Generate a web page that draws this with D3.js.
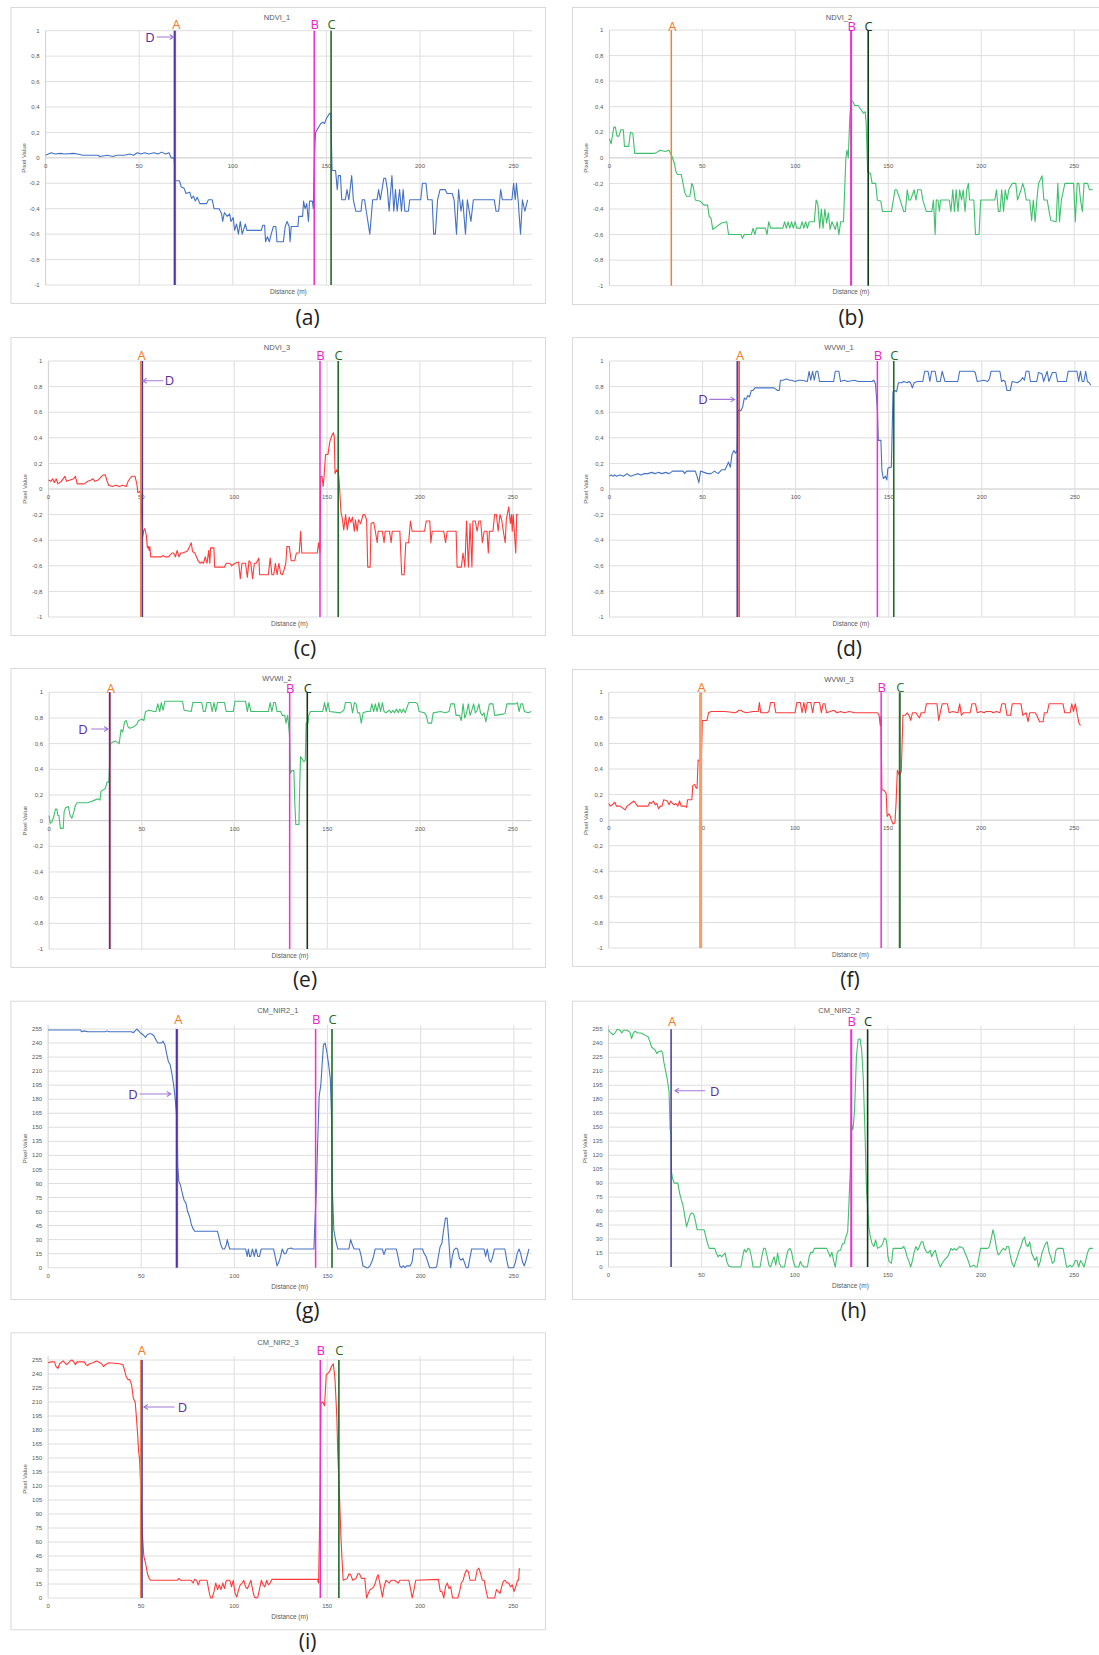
<!DOCTYPE html>
<meta charset="utf-8">
<script src="https://cdn.jsdelivr.net/npm/d3@7"></script>
<style>
  body { margin: 0; background: #fff; }
  text { font-family: "Liberation Sans", Arial, sans-serif; }
  .big { font-family: "Open Sans", "Noto Sans", sans-serif; }
</style>
<body>
<script>

// ---- profiles: [distance (m), pixel value] ----
var ndvi1 = [[0,0.02],[3,0.04],[5,0.03],[8,0.035],[10,0.03],[15,0.035],[17,0.03],[20,0.02],[28,0.02],[29,0.01],[33,0.02],[36,0.01],[38,0.02],[42,0.02],[45,0.03],[47,0.02],[49,0.04],[51,0.03],[53,0.04],[55,0.03],[58,0.04],[60,0.03],[62,0.045],[64,0.03],[66,0.04],[67,0.0],[68.7,0.0],[69.3,-0.18],[71.5,-0.18],[72.5,-0.23],[74,-0.24],[75,-0.28],[77,-0.27],[78,-0.32],[79,-0.30],[80,-0.34],[81,-0.31],[82.4,-0.36],[86,-0.36],[87,-0.33],[89,-0.33],[90,-0.40],[92.7,-0.40],[94,-0.44],[94.6,-0.50],[95.5,-0.43],[97,-0.46],[98.3,-0.44],[99,-0.50],[100.2,-0.47],[101,-0.57],[102,-0.52],[103,-0.6],[104,-0.5],[105,-0.6],[106.7,-0.52],[107.5,-0.57],[115.2,-0.57],[116,-0.53],[117,-0.53],[117.5,-0.66],[118.5,-0.62],[119.5,-0.66],[120.5,-0.60],[121.7,-0.54],[123,-0.54],[123.6,-0.66],[127,-0.66],[128,-0.54],[129,-0.5],[130.1,-0.54],[130.6,-0.66],[131.2,-0.54],[134.8,-0.54],[135.2,-0.46],[137.3,-0.46],[137.8,-0.34],[138.6,-0.40],[139.5,-0.36],[140.4,-0.50],[141,-0.34],[142.5,-0.34],[143,-0.40],[143.6,0.0],[144.2,0.2],[145,0.22],[147,0.27],[148,0.28],[149,0.27],[150,0.31],[151.7,0.35],[152.4,0.35],[153,-0.1],[154.9,-0.1],[155.8,-0.25],[156.4,-0.14],[157.5,-0.14],[158.2,-0.33],[160.1,-0.33],[161,-0.25],[162,-0.33],[163.5,-0.14],[164.4,-0.33],[165.7,-0.42],[168.5,-0.42],[169.1,-0.33],[170.4,-0.33],[171.3,-0.42],[173.2,-0.60],[174.7,-0.33],[177,-0.33],[177.9,-0.25],[178.8,-0.33],[180.7,-0.16],[181.6,-0.16],[182.6,-0.25],[183.5,-0.42],[185,-0.14],[186,-0.42],[186.9,-0.25],[187.8,-0.42],[189.1,-0.25],[190.1,-0.42],[191,-0.25],[191.9,-0.42],[193.8,-0.42],[194.5,-0.33],[200.4,-0.33],[201.3,-0.2],[203.2,-0.2],[204.1,-0.33],[206.5,-0.33],[207.3,-0.6],[208.2,-0.6],[209.4,-0.33],[210.7,-0.25],[213.5,-0.25],[214.5,-0.28],[217.2,-0.28],[218.2,-0.33],[219.5,-0.6],[220.6,-0.25],[221.9,-0.42],[222.8,-0.33],[224.3,-0.6],[225.3,-0.33],[227.2,-0.5],[228.5,-0.33],[239.7,-0.33],[240.6,-0.42],[242,-0.42],[243.1,-0.25],[244,-0.33],[249.1,-0.33],[250,-0.2],[250.9,-0.33],[251.5,-0.2],[252.4,-0.33],[253.7,-0.6],[254.7,-0.33],[256,-0.42],[257.5,-0.33]];

var ndvi2 = [[0,0.15],[0.9,0.11],[2.4,0.24],[3.2,0.24],[4.1,0.17],[5.1,0.17],[6.2,0.22],[7.5,0.22],[8.1,0.09],[10.4,0.09],[11.3,0.2],[12.6,0.19],[13.6,0.035],[24.5,0.035],[27.3,0.06],[30.1,0.05],[32,0.06],[33.4,0.02],[34.9,-0.04],[35.8,-0.11],[36.7,-0.13],[38.6,-0.13],[39.6,-0.2],[40.5,-0.27],[41.5,-0.3],[43.3,-0.3],[44.3,-0.2],[45.2,-0.23],[46.2,-0.33],[49,-0.34],[50.9,-0.37],[52.8,-0.37],[53.7,-0.46],[54.6,-0.47],[55.6,-0.56],[57.5,-0.54],[60.3,-0.51],[63.1,-0.5],[64.1,-0.6],[70.7,-0.6],[71.6,-0.63],[72.5,-0.6],[76.3,-0.6],[77.3,-0.55],[78.2,-0.6],[79.1,-0.55],[83.9,-0.55],[84.8,-0.6],[85.7,-0.5],[86.7,-0.55],[93.3,-0.55],[94.2,-0.5],[95.2,-0.55],[96.1,-0.5],[97,-0.55],[98,-0.5],[98.9,-0.55],[99.9,-0.5],[100.8,-0.55],[102.7,-0.55],[103.6,-0.5],[104.6,-0.55],[105.5,-0.5],[106.5,-0.55],[107.4,-0.5],[110.2,-0.5],[111.2,-0.33],[112.1,-0.36],[113.1,-0.55],[114,-0.4],[114.9,-0.55],[115.9,-0.4],[116.8,-0.51],[117.8,-0.43],[118.7,-0.56],[119.7,-0.5],[121.5,-0.56],[122.5,-0.5],[123.4,-0.6],[124.4,-0.5],[125.9,-0.5],[127.2,0],[127.8,0.06],[128.5,0],[129.3,0.32],[130,0.45],[131,0.44],[131.9,0.41],[133.8,0.41],[134.7,0.39],[136.6,0.35],[137.6,0.36],[138.1,0.27],[138.9,-0.11],[140.4,-0.12],[141.3,-0.2],[143.2,-0.2],[144.1,-0.33],[146,-0.34],[146.9,-0.42],[151.7,-0.42],[153.6,-0.25],[154.5,-0.25],[156.4,-0.33],[158.3,-0.42],[159.2,-0.42],[160.2,-0.25],[161.1,-0.33],[162,-0.33],[163.9,-0.25],[164.9,-0.33],[165.8,-0.25],[167.7,-0.25],[168.6,-0.33],[170.5,-0.42],[173.4,-0.42],[174.3,-0.33],[175.2,-0.6],[175.8,-0.33],[176.7,-0.33],[177.5,-0.42],[178.1,-0.33],[182.8,-0.33],[183.7,-0.42],[184.7,-0.25],[185.6,-0.42],[186.5,-0.25],[187.5,-0.42],[188.4,-0.25],[189.4,-0.33],[190.3,-0.25],[191.3,-0.42],[192.2,-0.25],[193.1,-0.2],[193.7,-0.33],[196,-0.33],[196.9,-0.6],[198.8,-0.6],[199.7,-0.33],[207.3,-0.33],[208.2,-0.25],[209.2,-0.42],[210.1,-0.42],[211,-0.25],[212,-0.42],[212.9,-0.25],[213.9,-0.33],[214.8,-0.25],[216.7,-0.2],[218.6,-0.2],[219.5,-0.33],[221.4,-0.25],[222.3,-0.2],[223.3,-0.25],[224.2,-0.33],[226.1,-0.33],[227.1,-0.49],[228,-0.33],[229,-0.5],[229.9,-0.33],[230.8,-0.2],[231.8,-0.17],[232.7,-0.14],[233.7,-0.33],[235.5,-0.33],[236.5,-0.42],[237.4,-0.49],[240.3,-0.5],[241.2,-0.2],[242.1,-0.5],[243.1,-0.33],[245,-0.2],[249.7,-0.2],[250.6,-0.5],[251.6,-0.2],[252.5,-0.2],[253.4,-0.33],[254.4,-0.42],[255.3,-0.2],[257.2,-0.2],[258.2,-0.25],[260,-0.25]];

var ndvi3 = [[0,0.07],[1.3,0.06],[2.3,0.08],[3.2,0.05],[4.2,0.08],[5.1,0.04],[7,0.06],[8.9,0.1],[9.8,0.06],[11.7,0.07],[13.6,0.08],[14.5,0.1],[15.5,0.04],[19.3,0.04],[21.2,0.06],[23,0.07],[24,0.08],[25,0.06],[26.8,0.07],[28.7,0.1],[29.7,0.11],[30.6,0.11],[31.6,0.06],[32.5,0.03],[34.4,0.02],[36.3,0.03],[38.1,0.02],[40,0.03],[41.9,0.02],[42.9,0.06],[43.8,0.08],[44.8,0.1],[46.6,0.1],[47.6,0.04],[48.2,-0.03],[49.1,-0.02],[49.7,-0.03],[50.8,-0.37],[51.4,-0.32],[51.9,-0.31],[52.7,-0.36],[53.3,-0.46],[53.9,-0.45],[54.2,-0.48],[54.6,-0.45],[55.1,-0.53],[60.8,-0.53],[61.8,-0.52],[62.7,-0.53],[64.6,-0.53],[66.5,-0.5],[67.4,-0.5],[68.4,-0.53],[69.3,-0.48],[70.3,-0.53],[71.2,-0.5],[72.1,-0.5],[74,-0.49],[75,-0.48],[76,-0.45],[76.9,-0.42],[77.5,-0.48],[77.8,-0.49],[78.8,-0.5],[79.7,-0.53],[80.6,-0.56],[81.6,-0.58],[82.5,-0.57],[83.5,-0.58],[84.4,-0.53],[85.4,-0.58],[86.3,-0.48],[86.9,-0.58],[87.3,-0.46],[89.1,-0.46],[89.5,-0.61],[94.8,-0.61],[95.7,-0.58],[97.6,-0.58],[98.6,-0.6],[100.5,-0.58],[102.4,-0.57],[103.3,-0.7],[104.2,-0.58],[106.1,-0.58],[107.1,-0.69],[108,-0.56],[109,-0.58],[109.9,-0.7],[110.9,-0.58],[111.8,-0.58],[113.3,-0.54],[113.7,-0.67],[118.4,-0.67],[119.4,-0.54],[120.3,-0.67],[121.3,-0.67],[122.2,-0.58],[123.1,-0.67],[124.1,-0.58],[125,-0.66],[126,-0.67],[126.9,-0.63],[127.8,-0.58],[128.4,-0.45],[129.7,-0.45],[130.7,-0.56],[132.6,-0.56],[133.5,-0.5],[135,-0.5],[135.8,-0.33],[136.4,-0.5],[144.8,-0.5],[145.4,-0.42],[146.2,-0.5],[146.6,0.1],[147.3,0.1],[147.9,0.02],[148.4,0.1],[149.2,0.27],[150.5,0.27],[151.5,0.37],[152.4,0.41],[153.4,0.44],[153.9,0.41],[154.3,0.12],[155.2,0.15],[156.2,0.12],[156.7,0.02],[157.5,-0.18],[158.1,-0.22],[159,-0.32],[160,-0.2],[160.9,-0.32],[161.9,-0.22],[162.8,-0.26],[163.7,-0.22],[164.7,-0.33],[165.3,-0.24],[166.2,-0.33],[166.9,-0.24],[168.1,-0.27],[169.4,-0.2],[170.3,-0.2],[171.3,-0.24],[171.9,-0.61],[173.2,-0.61],[173.7,-0.27],[175.1,-0.26],[176,-0.33],[177,-0.42],[177.5,-0.33],[179.8,-0.33],[180.7,-0.42],[181.3,-0.33],[183.6,-0.33],[184.5,-0.42],[185.1,-0.33],[189.2,-0.33],[190.2,-0.67],[191.5,-0.67],[192.4,-0.42],[193.9,-0.42],[194.9,-0.25],[195.8,-0.33],[202.5,-0.33],[203.4,-0.25],[205.3,-0.25],[205.9,-0.42],[206.6,-0.33],[212.8,-0.33],[213.8,-0.42],[214.7,-0.33],[219.5,-0.33],[220,-0.61],[222.3,-0.61],[223.2,-0.5],[224.2,-0.61],[225.1,-0.25],[226.1,-0.61],[227,-0.27],[228,-0.61],[228.5,-0.25],[229.8,-0.25],[230.8,-0.33],[231.7,-0.25],[232.7,-0.25],[233.6,-0.42],[234.6,-0.33],[236.1,-0.33],[236.8,-0.5],[237.4,-0.33],[239.3,-0.33],[240.2,-0.2],[241.2,-0.2],[242.1,-0.33],[243.1,-0.2],[244,-0.24],[244.9,-0.33],[245.9,-0.42],[246.5,-0.24],[247.8,-0.14],[248.7,-0.27],[249.3,-0.2],[249.7,-0.33],[250.2,-0.2],[250.8,-0.33],[251.6,-0.5],[252.1,-0.2],[252.9,-0.2]];

var wvwi1 = [[0,0.1],[0.9,0.11],[1.9,0.1],[2.8,0.11],[3.8,0.1],[5.6,0.11],[7.5,0.1],[9.4,0.12],[11.3,0.1],[13.2,0.11],[15,0.12],[16.9,0.11],[18.8,0.12],[20.7,0.12],[22.6,0.13],[24.5,0.12],[26.3,0.13],[28.2,0.12],[30.1,0.13],[32,0.12],[33.9,0.14],[35.7,0.14],[37.6,0.14],[39.5,0.14],[40.4,0.12],[41.4,0.14],[43.3,0.14],[45.1,0.14],[46.1,0.14],[47,0.1],[48,0.05],[48.9,0.14],[50.8,0.13],[52.7,0.12],[54.5,0.12],[56.4,0.14],[58.3,0.12],[60.2,0.15],[62.1,0.15],[63,0.18],[63.9,0.21],[64.9,0.17],[65.8,0.27],[66.8,0.3],[67.7,0.28],[68.6,0.3],[69,0.6],[69.6,0.62],[70.5,0.61],[71.5,0.64],[72.4,0.71],[73.3,0.7],[74.3,0.73],[75.2,0.72],[76.2,0.77],[77.1,0.77],[78.1,0.79],[80.9,0.79],[82.8,0.79],[84.6,0.79],[86.5,0.79],[88.4,0.79],[90.3,0.77],[91.2,0.77],[91.8,0.85],[93.1,0.85],[95,0.86],[96.9,0.85],[97.8,0.85],[99.7,0.84],[101.6,0.85],[103.4,0.85],[106.3,0.84],[107.2,0.92],[108.1,0.85],[109.1,0.92],[110,0.85],[111,0.92],[111.9,0.92],[112.8,0.84],[120.4,0.84],[121.3,0.92],[123.2,0.92],[124.1,0.84],[126,0.85],[127.9,0.84],[131.6,0.85],[133.5,0.84],[141.1,0.84],[142,0.85],[142.9,0.82],[143.9,0.62],[144.4,0.38],[145.8,0.38],[146.3,0.15],[147.1,0.08],[148.2,0.1],[149,0.07],[149.5,0.16],[150.5,0.17],[151.4,0.17],[152.3,0.76],[153.3,0.77],[154.2,0.76],[155.2,0.83],[157,0.83],[158,0.84],[159.9,0.83],[160.9,0.84],[161.7,0.83],[162.7,0.79],[163.6,0.83],[165.5,0.84],[168.3,0.84],[169.3,0.92],[171.1,0.92],[172.1,0.84],[173,0.92],[174.9,0.92],[175.9,0.84],[177.7,0.84],[178.7,0.92],[180.2,0.84],[187.1,0.84],[188.1,0.92],[195.6,0.92],[196.5,0.91],[197.5,0.84],[201.2,0.85],[203.1,0.84],[204.1,0.86],[205,0.92],[209.7,0.92],[210.6,0.84],[211.6,0.85],[212.5,0.84],[213.5,0.77],[215.3,0.77],[216.3,0.84],[219.1,0.83],[221,0.85],[221.9,0.87],[222.9,0.85],[223.8,0.92],[225.3,0.92],[226.1,0.84],[229.5,0.84],[230.4,0.91],[232.3,0.9],[233.2,0.84],[235.1,0.92],[236,0.84],[237.9,0.91],[239.8,0.91],[240.7,0.84],[245.4,0.84],[246.4,0.92],[251.1,0.92],[252,0.84],[253,0.92],[253.9,0.84],[254.8,0.84],[255.8,0.92],[256.7,0.84],[257.7,0.83],[258.6,0.81]];

var wvwi2 = [[0,0.04],[0.6,-0.02],[1.5,-0.01],[2.5,0.03],[3.4,0.09],[4.2,0.09],[4.7,0.04],[5.3,0.04],[6.1,-0.06],[7.6,-0.06],[8.1,0.07],[8.9,0.1],[10.4,0.11],[11.3,0.04],[12.3,0.02],[13.2,0.06],[14.2,0.12],[15.1,0.14],[17,0.14],[18.9,0.14],[20.8,0.14],[22.7,0.15],[24.6,0.16],[26.5,0.17],[27.4,0.16],[28,0.23],[29.3,0.24],[30.3,0.25],[31.2,0.3],[32.2,0.3],[33.1,0.6],[34,0.61],[35.9,0.62],[37.8,0.6],[38.8,0.71],[39.7,0.69],[40.7,0.77],[41.6,0.78],[42.6,0.73],[43.5,0.72],[45.4,0.73],[47.3,0.75],[48.2,0.78],[50.1,0.79],[51.1,0.78],[52,0.85],[53.9,0.86],[56.7,0.85],[57.6,0.85],[58.6,0.91],[59.6,0.85],[60.5,0.92],[61.5,0.86],[62.4,0.93],[71.9,0.93],[72.8,0.86],[76.6,0.85],[77.5,0.92],[82.3,0.92],[83.2,0.85],[84.2,0.85],[85.1,0.92],[87,0.92],[87.9,0.85],[88.9,0.92],[89.8,0.85],[90.8,0.92],[94.6,0.92],[95.5,0.85],[99.3,0.85],[100.2,0.93],[105.9,0.93],[106.9,0.85],[107.8,0.92],[108.8,0.85],[118.2,0.85],[119.2,0.92],[120.1,0.85],[121.1,0.92],[122,0.92],[122.9,0.85],[124.8,0.85],[125.8,0.82],[127.1,0.82],[127.7,0.76],[128.6,0.82],[129.6,0.67],[130.1,0.37],[130.9,0.39],[132,0.39],[132.4,0.16],[133,-0.03],[134.7,-0.03],[135.2,0.32],[135.6,0.5],[136.8,0.47],[137.4,0.46],[138.1,0.47],[138.6,0.76],[139.6,0.76],[140,0.82],[140.9,0.85],[147.5,0.85],[148.5,0.92],[149.4,0.85],[150.4,0.92],[151.3,0.85],[157,0.84],[158.9,0.86],[159.8,0.92],[162.7,0.92],[163.6,0.84],[164.6,0.92],[165.5,0.91],[166.4,0.84],[167.4,0.84],[168.3,0.76],[169.3,0.84],[171.2,0.85],[173.1,0.85],[174,0.91],[175,0.85],[175.9,0.91],[176.8,0.85],[177.8,0.92],[178.7,0.85],[179.7,0.92],[180.6,0.85],[181.6,0.84],[182.5,0.85],[183.5,0.86],[184.4,0.84],[185.4,0.86],[186.3,0.84],[187.3,0.87],[188.2,0.84],[189.1,0.87],[190.1,0.84],[191,0.87],[192,0.84],[192.9,0.88],[193.9,0.92],[197.7,0.92],[198.6,0.91],[199.5,0.85],[202.4,0.84],[203.3,0.82],[204.3,0.76],[206.2,0.76],[207.1,0.84],[210.9,0.85],[213.7,0.84],[215.6,0.85],[216.6,0.91],[218.5,0.91],[219.4,0.82],[221.3,0.82],[222.2,0.78],[223.2,0.91],[224.1,0.8],[225.1,0.84],[226,0.91],[227,0.82],[227.9,0.86],[228.9,0.91],[229.8,0.84],[230.8,0.86],[231.7,0.91],[232.6,0.84],[233.6,0.82],[234.5,0.84],[235.5,0.77],[236.4,0.84],[237.4,0.91],[239.3,0.91],[240.2,0.82],[244.9,0.83],[245.9,0.84],[246.8,0.91],[251.6,0.91],[252.5,0.92],[253.4,0.85],[254.4,0.91],[255.3,0.91],[256.3,0.85],[258.2,0.84],[260,0.85]];

var wvwi3 = [[0,0.13],[0.8,0.11],[1.9,0.12],[3.2,0.14],[4.1,0.11],[6,0.11],[7.9,0.09],[8.8,0.08],[9.8,0.11],[11.7,0.13],[13.5,0.15],[14.5,0.13],[15.4,0.11],[17.3,0.11],[19.2,0.11],[21.1,0.11],[22,0.14],[22.9,0.13],[23.9,0.15],[24.9,0.12],[25.8,0.13],[26.7,0.09],[27.7,0.11],[28.6,0.11],[29.5,0.16],[31.4,0.15],[32.4,0.12],[33.3,0.15],[34.2,0.13],[35.2,0.12],[36.1,0.13],[37.1,0.11],[38,0.15],[38.9,0.11],[39.9,0.11],[40.8,0.11],[41.8,0.1],[42.3,0.16],[43.3,0.16],[44.6,0.16],[45.1,0.27],[46.1,0.28],[47,0.25],[47.4,0.25],[48,0.47],[48.3,0.47],[48.9,0.46],[49.7,0.46],[50.2,0.78],[51.2,0.78],[52.7,0.78],[53.6,0.84],[54.9,0.85],[56.8,0.85],[62.5,0.85],[68.1,0.84],[70,0.86],[70.9,0.86],[71.9,0.85],[73.7,0.84],[77.5,0.85],[80.3,0.85],[80.9,0.92],[81.6,0.84],[83.1,0.84],[85,0.84],[86,0.85],[86.9,0.92],[88.8,0.92],[89.7,0.84],[100.1,0.84],[101,0.92],[102.9,0.92],[103.8,0.84],[104.8,0.92],[105.7,0.84],[106.6,0.92],[108.5,0.92],[109.5,0.84],[110.4,0.92],[113.2,0.92],[114.2,0.84],[115.1,0.91],[116.1,0.91],[117,0.84],[118.9,0.85],[120.8,0.86],[122.6,0.84],[124.5,0.85],[126.4,0.84],[129.2,0.85],[132.1,0.84],[137.7,0.84],[144.3,0.84],[145.2,0.82],[145.8,0.74],[146.2,0.81],[146.7,0.24],[148,0.23],[149,0.21],[149.5,0.03],[150.5,0.05],[151.2,0.03],[151.8,0],[152.7,-0.03],[153.7,-0.02],[154.3,0.13],[155,0.39],[156.1,0.35],[157.1,0.38],[158,0.82],[159.3,0.82],[160.3,0.84],[161.2,0.82],[162.2,0.78],[163.1,0.84],[165,0.84],[165.9,0.82],[166.9,0.8],[167.8,0.84],[169.7,0.84],[170.6,0.91],[176.3,0.91],[177.2,0.78],[178.2,0.85],[179.1,0.91],[181.9,0.91],[182.8,0.84],[184.7,0.85],[187.5,0.84],[188.5,0.91],[189.4,0.82],[190.4,0.84],[194.1,0.84],[195.1,0.91],[197,0.91],[197.9,0.84],[199.8,0.85],[201.7,0.84],[202.6,0.85],[205.4,0.85],[206.4,0.84],[208.2,0.85],[210.1,0.84],[211.1,0.91],[212.9,0.91],[213.9,0.82],[215.8,0.82],[216.7,0.91],[221.4,0.91],[222.4,0.82],[224.2,0.84],[225.2,0.77],[226.1,0.84],[229,0.84],[229.9,0.82],[231.4,0.77],[233.3,0.77],[234,0.84],[235.5,0.84],[236.5,0.91],[244,0.91],[244.9,0.84],[247.8,0.84],[248.7,0.91],[249.6,0.85],[250.6,0.91],[251.5,0.84],[252.5,0.76],[253.4,0.74]];

var nir1 = [[0,254],[17.5,254],[17.9,252],[19.4,253],[21.3,252],[30.7,252],[31.6,253],[32.6,252],[44.8,252],[45.7,251],[46.7,253],[47.6,255],[48.6,253],[49.5,251],[51.4,248],[52.3,246],[53.3,249],[54.2,250],[55.1,250],[56.1,249],[57,247],[58,243],[58.9,240],[59.9,240],[60.8,240],[61.7,242],[62.7,238],[63.6,229],[64.6,220],[65.5,217],[66.4,208],[67.4,195],[68.3,179],[68.9,165],[69.3,147],[69.6,108],[70.2,92],[71.1,88],[72.1,79],[73,72],[74,69],[74.9,60],[75.9,55],[76.8,47],[77.7,42],[78.7,39],[90.9,39],[91.9,31],[92.8,24],[93.7,20],[94.7,20],[95.6,24],[96.2,30],[96.9,24],[97.5,20],[106,20],[106.9,12],[107.5,20],[108.2,12],[108.8,12],[109.7,20],[110.7,12],[111.6,20],[112.6,12],[113.5,12],[114.4,20],[121,20],[121.9,12],[122.9,2],[123.9,6],[124.8,12],[125.7,20],[126.7,15],[127.6,15],[128.6,20],[130.4,21],[131.4,20],[142.7,20],[143.2,47],[144,83],[144.6,126],[145.5,183],[146.4,195],[147,214],[147.8,238],[148.7,240],[149.6,231],[150.6,217],[151.5,202],[152.1,165],[152.6,83],[153.4,40],[154.5,28],[155.5,20],[161.5,20],[162.4,30],[163.4,24],[164.3,20],[167.1,20],[168.1,12],[169,2],[170.9,0],[171.8,0],[172.8,2],[173.7,6],[174.7,12],[175.6,20],[179.4,20],[180.3,14],[181.3,20],[186.9,20],[187.8,12],[188.8,2],[189.7,0],[190.7,2],[191.6,0],[192.5,2],[194.4,2],[195.4,6],[196.3,20],[201,20],[201.9,15],[202.9,12],[204.8,0],[207.6,0],[208.6,1],[209.5,12],[210.4,22],[211.4,26],[212.3,40],[213.3,53],[214.2,53],[215.1,30],[216.1,0],[217,12],[217.9,19],[218.9,21],[219.8,20],[220.8,10],[221.7,8],[222.7,10],[223.6,5],[224.5,0],[225.5,0],[226.4,10],[227.4,20],[234,20],[234.9,12],[235.8,20],[236.8,8],[237.7,6],[238.7,12],[239.6,20],[245.2,20],[246.2,8],[247.1,0],[249.9,0],[250.9,6],[251.8,15],[252.8,20],[253.7,15],[254.7,6],[255.6,2],[256.6,8],[257.5,15],[258.1,20]];

var nir2 = [[0,254],[0.9,252],[2.4,249],[3.4,251],[4.7,255],[6.2,254],[7.1,251],[8.1,254],[10,254],[11.5,252],[12.4,245],[13.3,251],[14.3,253],[15.6,251],[17.5,251],[19.4,249],[21.2,247],[22.2,242],[23.1,236],[25,233],[25.9,229],[26.9,231],[28.4,232],[29.1,229],[29.7,220],[30.6,211],[31.6,201],[32.5,188],[33.1,147],[33.6,143],[33.8,102],[34.4,95],[35.3,90],[37.2,90],[38.2,79],[39.1,72],[40,66],[41,54],[41.9,43],[42.9,50],[43.8,56],[44.7,58],[45.7,57],[46.6,50],[47.6,40],[51.3,40],[52.3,32],[53.2,25],[54.1,20],[57,20],[57.9,15],[58.8,11],[59.8,13],[60.7,11],[61.7,13],[62.6,15],[63.5,6],[64.5,1],[66.4,0],[71.1,0],[72,11],[72.9,19],[73.9,16],[74.8,20],[75.8,19],[76.7,11],[77.6,0],[81.4,0],[82.3,11],[83.3,20],[84.2,20],[85.2,11],[86.1,2],[87,0],[88,6],[88.9,11],[89.8,2],[90.8,15],[91.7,4],[92.7,0],[94.5,0],[95.5,11],[96.4,18],[97.4,20],[98.3,16],[99.2,6],[100.2,0],[102.1,0],[103,6],[103.9,2],[104.9,0],[106.8,0],[107.7,11],[108.6,16],[109.6,15],[110.5,20],[117.1,20],[118,16],[119,11],[119.9,16],[120.9,6],[121.8,0],[122.7,15],[123.7,18],[124.6,18],[125.6,25],[126.5,25],[127.4,32],[128.4,38],[128.9,59],[129.5,90],[129.9,108],[130.3,154],[131.2,147],[132.1,168],[133.1,226],[134,244],[135,245],[135.9,233],[136.8,201],[137.8,136],[138.5,83],[139.1,65],[139.7,43],[140.6,32],[141.5,25],[142.5,22],[143.4,29],[144.4,20],[146.2,22],[147.2,25],[148.1,31],[149.1,29],[149.6,22],[150,11],[150.6,6],[151.9,4],[152.8,20],[157.5,20],[158.5,22],[159.4,18],[160.3,11],[161.3,6],[162.2,0],[163.2,7],[164.1,16],[165,22],[166,18],[166.9,22],[167.9,27],[168.8,27],[169.7,20],[170.7,16],[171.6,15],[172.6,18],[173.5,11],[174.4,15],[175.4,18],[176.3,11],[177.3,4],[178.2,0],[179.1,4],[180.1,7],[181,9],[182,11],[182.9,15],[183.8,20],[184.8,18],[185.7,20],[186.7,18],[187.6,20],[188.5,22],[190.4,20],[191.4,15],[192.3,11],[193.2,6],[194.2,0],[196.1,2],[197,0],[197.9,0],[198.9,11],[199.8,20],[203.6,20],[204.5,22],[205.5,31],[206.4,40],[207.3,32],[208.3,20],[209.2,13],[210.2,15],[211.1,18],[212,20],[213,18],[213.9,22],[214.8,22],[215.8,11],[216.7,4],[217.7,0],[218.6,6],[219.5,11],[220.5,18],[221.4,22],[222.4,29],[223.3,32],[224.2,24],[225.2,22],[226.1,27],[227.1,15],[228,11],[228.9,7],[229.9,11],[230.8,0],[231.8,6],[232.7,15],[233.6,20],[234.6,25],[235.5,27],[236.5,16],[237.4,11],[238.3,4],[239.3,6],[240.2,18],[241.2,20],[244,20],[244.9,11],[245.9,0],[246.8,0],[247.8,2],[248.7,0],[249.6,2],[250.6,7],[251.5,7],[252.4,0],[253.4,7],[254.3,4],[255.3,0],[256.2,7],[257.1,15],[258.1,20],[260,20]];

var nir3 = [[0,252],[1.5,253],[3.4,253],[4.3,248],[5.3,246],[6.2,251],[8.1,254],[9,252],[10,250],[10.9,252],[11.9,254],[12.8,255],[13.8,253],[14.7,250],[15.6,253],[19.4,253],[20.4,250],[21.3,249],[22.2,251],[24.1,252],[26,254],[27.9,252],[28.8,251],[29.8,248],[30.7,250],[31.7,251],[32.6,252],[38.3,251],[40.2,250],[41.1,244],[42,237],[43,234],[43.9,234],[44.9,228],[45.8,214],[46.8,210],[47.3,198],[48.1,176],[48.6,159],[49.2,148],[50,105],[50.5,76],[51.1,55],[51.5,44],[52.4,37],[53.4,26],[54.3,21],[55.2,19],[69.4,19],[70.3,21],[71.3,19],[76.9,19],[77.9,16],[78.8,20],[79.8,19],[80.7,14],[81.6,19],[85.4,19],[86.3,9],[87.3,0],[88.2,0],[89.2,7],[90.1,16],[91.1,9],[92,14],[92.9,9],[93.9,16],[94.8,10],[95.8,19],[97.7,19],[98.6,12],[99.5,19],[100.5,5],[101.4,1],[102.4,9],[103.3,14],[104.3,16],[105.2,19],[106.1,12],[107.1,10],[108,14],[109,19],[109.9,9],[110.9,1],[111.8,0],[112.7,1],[113.7,10],[114.6,19],[115.6,14],[116.5,12],[117.5,19],[118.4,14],[119.3,16],[120.3,20],[144.8,20],[145.4,16],[146.1,98],[146.7,209],[147.6,210],[148.6,206],[149.5,239],[150.5,241],[151.4,243],[152.3,248],[153.3,251],[154.2,235],[155.2,194],[155.7,155],[156.5,116],[157.4,66],[158,41],[158.6,19],[160.8,21],[161.8,26],[162.7,25],[163.7,19],[165.5,21],[166.5,26],[167.4,26],[168.4,21],[170.2,21],[171.2,0],[172.1,5],[173.1,9],[174,10],[175,12],[175.9,16],[176.8,23],[177.4,25],[177.8,21],[178.7,12],[179.7,1],[180.6,12],[181.6,19],[183.4,16],[184.4,19],[186.3,19],[188.2,16],[189.1,19],[193.9,19],[194.8,10],[195.7,0],[196.7,9],[197.6,19],[209.8,20],[210.8,7],[211.7,7],[212.7,0],[213.6,12],[214.6,16],[215.5,10],[216.4,12],[217.4,0],[220.2,0],[221.2,7],[222.1,16],[223.1,19],[224,26],[224.9,30],[225.9,28],[226.8,19],[229.6,19],[230.6,30],[231.5,32],[232.5,26],[233.4,19],[234.4,19],[235.3,9],[236.3,0],[240,0],[241,9],[241.9,7],[242.9,5],[243.8,12],[244.7,18],[245.7,19],[246.6,16],[247.6,16],[248.5,12],[249.5,14],[250.4,7],[251.4,12],[252.3,19],[252.9,19],[253.3,32]];

var series = [ndvi1, ndvi2, ndvi3, wvwi1, wvwi2, wvwi3, nir1, nir2, nir3];
var titles = ["NDVI_1", "NDVI_2", "NDVI_3", "WVWI_1", "WVWI_2", "WVWI_3", "CM_NIR2_1", "CM_NIR2_2", "CM_NIR2_3"];
var captions = ["(a)", "(b)", "(c)", "(d)", "(e)", "(f)", "(g)", "(h)", "(i)"];

// boundary markers (distance, m); null where the panel has no such line
var markA = [69.3, 33.3, 49.7, 69.6, 32.8, 49.3, 69.4, null, 49.8];
var markD = [68.8, null, 50.6, 68.6, 32.6, null, 68.9, 33.6, 50.5];
var markB = [143.5, 130, 146.2, 143.9, 129.7, 146.3, 143.6, 130.3, 146.3];
var markC = [152.5, 139.2, 156, 152.7, 139.2, 156.3, 152.4, 139.1, 156.3];

// "D" call-outs: [label x, arrow start x, arrow tip x, y value]
var dNotes = [[55.8, 59.4, 68.4, 0.95], null, [65.2, 61.8, 50.8, 0.846], [50.2, 53.6, 67.2, 0.70],
              [18.2, 22.7, 31.8, 0.714], null, [45.5, 49.1, 65.9, 185.6], [57, 51.9, 35.7, 189], [72.2, 68, 51.5, 204.6]];

var xTicks = [0, 50, 100, 150, 200, 250];
var ndviTicks = [-1, -0.8, -0.6, -0.4, -0.2, 0, 0.2, 0.4, 0.6, 0.8, 1];
var cmTicks = [0, 15, 30, 45, 60, 75, 90, 105, 120, 135, 150, 165, 180, 195, 210, 225, 240, 255];

// ---- layout of the nine screenshots ----
var layout = [
  {box: [10.5, 7, 545, 303],       x0: 45.6,  x250: 513.6, right: 532, top: 30.7,   bottom: 285,    ly: 24.3,  cap: [307.6, 317],  tx: 277,   ax: 288.3, yl: 23.9},
  {box: [572, 7, 1130, 304],       x0: 609.4, x250: 1074.2, right: 1130, top: 30,   bottom: 285.7,  ly: 26,    cap: [851, 317],    tx: 839,   ax: 851,   yl: 586},
  {box: [10.5, 337, 545, 635],     x0: 48.4,  x250: 512.8, right: 532, top: 361,    bottom: 617,    ly: 355,   cap: [305, 648],    tx: 277,   ax: 289.4, yl: 24.6},
  {box: [572, 337, 1130, 635],     x0: 609.5, x250: 1074.9, right: 1130, top: 361,  bottom: 617,    ly: 355,   cap: [849.4, 648],  tx: 839,   ax: 851,   yl: 586},
  {box: [10.5, 668, 545, 967],     x0: 49.1,  x250: 512.8, right: 531.4, top: 692.3, bottom: 949,   ly: 688,   cap: [305, 979],    tx: 277,   ax: 290,   yl: 25.3},
  {box: [572, 669, 1130, 966],     x0: 608.8, x250: 1074.2, right: 1130, top: 692.3, bottom: 948,   ly: 687,   cap: [850, 979],    tx: 839,   ax: 850.4, yl: 586},
  {box: [10.5, 1000.7, 545, 1299], x0: 48.1,  x250: 513.8, right: 532.2, top: 1029, bottom: 1267.7, ly: 1019.5, cap: [307.6, 1310], tx: 277.8, ax: 289.7, yl: 24.6},
  {box: [572, 1000.7, 1130, 1299], x0: 608.5, x250: 1074.2, right: 1130, top: 1029.3, bottom: 1267, ly: 1021,  cap: [853.6, 1310], tx: 839,   ax: 850.4, yl: 585},
  {box: [10.5, 1332.3, 545, 1629.3], x0: 48.1, x250: 513.2, right: 532.2, top: 1360, bottom: 1598,  ly: 1350,  cap: [307.6, 1641.7], tx: 278, ax: 289.7, yl: 25.3}
];

var lineColors = ["#4472c4", "#3fc06c", "#ff3a3a"];
var aColors = ["#e4432c", "#f0803a", "#f0843e", "#e6392e", "#e0402e", "#f2a06a", "#e23b33", null, "#f0843e"];
var cColors = ["#1f6b27", "#123c16", "#1f6b27", "#1f6b27", "#123c16", "#2a6e32", "#1f6b27", "#123c16", "#1f6b27"];

var svg = d3.select("body").append("svg")
    .attr("width", 1099)
    .attr("height", 1655)
    .style("display", "block");

svg.append("rect").attr("width", 1099).attr("height", 1655).attr("fill", "#fff");

function fmtNdvi(v) {
  return (Math.round(v * 10) / 10).toString().replace(".", ",");
}

series.forEach(function(data, i) {
  var L = layout[i];
  var isCM = i >= 6;
  var g = svg.append("g");

  g.append("rect")
      .attr("x", L.box[0] + 0.5).attr("y", L.box[1] + 0.5)
      .attr("width", L.box[2] - L.box[0]).attr("height", L.box[3] - L.box[1])
      .attr("fill", "#fff").attr("stroke", "#d9d9d9");

  var x = d3.scaleLinear().domain([0, 250]).range([L.x0, L.x250]);
  var y = d3.scaleLinear()
      .domain(isCM ? [0, 255] : [-1, 1])
      .range([L.bottom, L.top]);
  var yt = isCM ? cmTicks : ndviTicks;

  // grid
  g.selectAll(".hg").data(yt).enter().append("line")
      .attr("x1", L.x0).attr("x2", L.right)
      .attr("y1", function(d) { return y(d); }).attr("y2", function(d) { return y(d); })
      .attr("stroke", function(d) { return d === 0 && !isCM ? "#c8c8c8" : "#dedede"; })
      .attr("stroke-width", 1);
  g.selectAll(".vg").data(xTicks).enter().append("line")
      .attr("x1", function(d) { return x(d); }).attr("x2", function(d) { return x(d); })
      .attr("y1", L.top - (isCM ? 4 : 0)).attr("y2", L.bottom)
      .attr("stroke", function(d) { return d === 0 ? "#cfcfcf" : "#dedede"; })
      .attr("stroke-width", 1);

  // tick labels
  g.selectAll(".yl").data(yt).enter().append("text")
      .attr("x", L.x0 - 6)
      .attr("y", function(d) { return y(d); })
      .attr("dy", "0.35em")
      .attr("text-anchor", "end")
      .attr("font-size", 6)
      .attr("fill", "#595959")
      .text(function(d) { return isCM ? d : fmtNdvi(d); });
  g.selectAll(".xl").data(xTicks).enter().append("text")
      .attr("x", function(d) { return x(d); })
      .attr("y", y(0) + 8)
      .attr("dy", "0.35em")
      .attr("text-anchor", "middle")
      .attr("font-size", 6)
      .attr("fill", "#595959")
      .text(function(d) { return d; });

  // titles
  g.append("text")
      .attr("x", L.tx).attr("y", L.box[1] + 10).attr("dy", "0.35em")
      .attr("text-anchor", "middle").attr("font-size", 7.5).attr("fill", "#595959")
      .text(titles[i]);
  g.append("text")
      .attr("x", L.ax).attr("y", L.bottom + (isCM ? 19 : 6.5)).attr("dy", "0.35em")
      .attr("text-anchor", "middle").attr("font-size", 6.5).attr("fill", "#595959")
      .text("Distance (m)");
  g.append("text")
      .attr("transform", "translate(" + L.yl + "," + ((L.top + L.bottom) / 2) + ") rotate(-90)")
      .attr("dy", "0.35em")
      .attr("text-anchor", "middle").attr("font-size", 6).attr("fill", "#595959")
      .text("Pixel Value");

  // profile
  var line = d3.line()
      .x(function(d) { return x(d[0]); })
      .y(function(d) { return y(d[1]); });
  g.append("path")
      .datum(data)
      .attr("d", line)
      .attr("fill", "none")
      .attr("stroke", lineColors[i % 3])
      .attr("stroke-width", 1.1)
      .attr("stroke-linejoin", "round");

  // boundary lines
  function vline(v, color, w) {
    g.append("line")
        .attr("x1", x(v)).attr("x2", x(v))
        .attr("y1", L.top).attr("y2", L.bottom)
        .attr("stroke", color).attr("stroke-width", w);
  }
  if (markA[i] != null) vline(markA[i], aColors[i], i === 5 ? 3 : 1.5);
  if (markD[i] != null) vline(markD[i], "#4536aa", 1.5);
  vline(markB[i], "#f22ccf", i === 1 || i === 7 ? 2 : 1.5);
  vline(markC[i], cColors[i], i === 5 ? 2 : 1.6);

  // letters
  var aPos = markA[i] != null ? markA[i] : markD[i];
  var letters = [["A", aPos, "#f37a24"], ["B", markB[i], "#ee22c8"], ["C", markC[i], cColors[i]]];
  letters.forEach(function(l) {
    g.append("text")
        .attr("class", "big")
        .attr("x", x(l[1]) + (l[0] === "A" ? 1 : 0.5))
        .attr("y", L.ly).attr("dy", "0.36em")
        .attr("text-anchor", "middle")
        .attr("font-size", 13)
        .attr("fill", l[2])
        .text(l[0]);
  });

  // D call-out
  var n = dNotes[i];
  if (n) {
    var yy = y(n[3]);
    var dir = n[2] > n[1] ? 1 : -1;
    g.append("text")
        .attr("class", "big")
        .attr("x", x(n[0])).attr("y", yy).attr("dy", "0.36em")
        .attr("text-anchor", "middle").attr("font-size", 13).attr("fill", "#5b2a9e")
        .text("D");
    g.append("path")
        .attr("d", "M" + x(n[1]) + "," + yy + "L" + x(n[2]) + "," + yy +
                   "M" + (x(n[2]) - dir * 4) + "," + (yy - 2.5) + "L" + x(n[2]) + "," + yy +
                   "L" + (x(n[2]) - dir * 4) + "," + (yy + 2.5))
        .attr("fill", "none").attr("stroke", "#a27ad6").attr("stroke-width", 1.1);
  }

  // caption
  g.append("text")
      .attr("class", "big")
      .attr("x", L.cap[0]).attr("y", L.cap[1]).attr("dy", "0.36em")
      .attr("text-anchor", "middle").attr("font-size", 21).attr("fill", "#222")
      .text(captions[i]);
});

</script>
</body>
